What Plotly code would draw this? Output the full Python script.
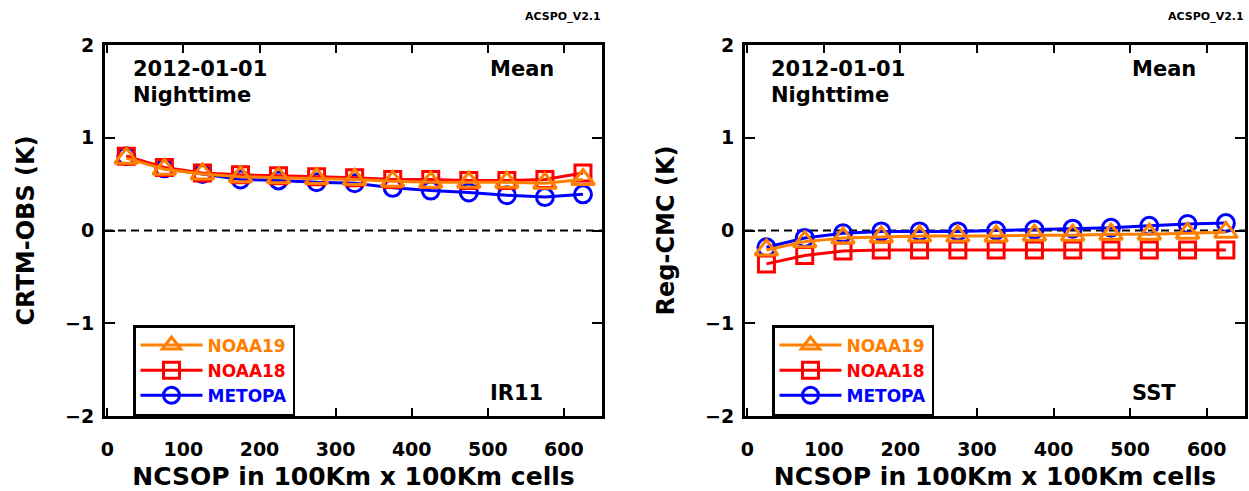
import plotly.graph_objects as go

# ---------------- data ----------------
ncsop = [25, 75, 125, 175, 225, 275, 325, 375, 425, 475, 525, 575, 625]

noaa19_ir11 = [0.78, 0.66, 0.61, 0.58, 0.57, 0.56, 0.55, 0.53, 0.52, 0.52, 0.52, 0.51, 0.55]
noaa18_ir11 = [0.80, 0.68, 0.62, 0.60, 0.59, 0.58, 0.57, 0.55, 0.55, 0.54, 0.54, 0.55, 0.62]
metopa_ir11 = [0.80, 0.67, 0.61, 0.55, 0.54, 0.52, 0.51, 0.46, 0.43, 0.41, 0.38, 0.36, 0.39]

noaa19_sst = [-0.21, -0.12, -0.08, -0.07, -0.06, -0.06, -0.06, -0.05, -0.05, -0.04, -0.04, -0.03, -0.02]
noaa18_sst = [-0.36, -0.27, -0.22, -0.21, -0.21, -0.21, -0.21, -0.21, -0.21, -0.21, -0.21, -0.21, -0.21]
metopa_sst = [-0.18, -0.08, -0.03, -0.01, -0.01, -0.01, 0.00, 0.01, 0.02, 0.03, 0.05, 0.07, 0.08]

x_ticks = [0, 100, 200, 300, 400, 500, 600]
y_ticks = [-2, -1, 0, 1, 2]

series_names = ["METOPA", "NOAA18", "NOAA19"]
series_colors = ["#0000FF", "#FF0000", "#FF8000"]
series_symbols = ["circle-open", "square-open", "triangle-up-open"]
series_sizes = [17, 16, 20]

left_values = [metopa_ir11, noaa18_ir11, noaa19_ir11]
right_values = [metopa_sst, noaa18_sst, noaa19_sst]

FONT = "DejaVu Sans"

fig = go.Figure()

for panel, values, xa, ya, leg in [
    ("left", left_values, "x", "y", "legend"),
    ("right", right_values, "x2", "y2", "legend2"),
]:
    for name, col, sym, sz, vals in zip(series_names, series_colors, series_symbols, series_sizes, values):
        fig.add_trace(go.Scatter(
            x=ncsop, y=vals, xaxis=xa, yaxis=ya,
            mode="lines+markers",
            name=f'<span style="color:{col}">{name}</span>',
            legend=leg,
            line=dict(color=col, width=3),
            marker=dict(symbol=sym, size=sz, color=col, line=dict(color=col, width=3)),
        ))

W, H = 1249, 491
left_dom = [105 / W, 602 / W]
right_dom = [745 / W, 1245 / W]
y_dom = [(H - 416) / H, (H - 45) / H]

tickfont = dict(family=FONT, size=19, color="black", weight="bold")
xtitlefont = dict(family=FONT, size=25, color="black", weight="bold")
ytitlefont = dict(family=FONT, size=24, color="black", weight="bold")

def xaxis(dom, anchor):
    return dict(
        domain=dom, anchor=anchor, range=[-3, 650], tickvals=x_ticks,
        ticks="inside", ticklen=8, tickwidth=2, tickcolor="black",
        showline=True, linecolor="black", linewidth=3, mirror="ticks",
        showgrid=False, zeroline=False, tickfont=tickfont,
        ticklabelstandoff=14,
        title=dict(text="NCSOP in 100Km x 100Km cells", font=xtitlefont, standoff=11),
        automargin=False,
    )

def yaxis(title, anchor):
    return dict(
        domain=y_dom, anchor=anchor, range=[-2, 2], tickvals=y_ticks,
        ticks="inside", ticklen=10, tickwidth=2, tickcolor="black",
        showline=True, linecolor="black", linewidth=3, mirror="ticks",
        showgrid=False, zeroline=False, tickfont=tickfont,
        ticklabelstandoff=4,
        title=dict(text=title, font=ytitlefont, standoff=24),
        automargin=False,
    )

legend_common = dict(
    bgcolor="white", bordercolor="black", borderwidth=2.5,
    font=dict(family=FONT, size=17, weight="bold"),
    traceorder="reversed", xanchor="left", yanchor="top",
    itemwidth=62, tracegroupgap=0,
)

fig.update_layout(
    width=W, height=H,
    margin=dict(l=0, r=0, t=0, b=0, pad=0),
    paper_bgcolor="white", plot_bgcolor="white",
    showlegend=True,
    xaxis=xaxis(left_dom, "y"),
    yaxis=yaxis("CRTM-OBS (K)", "x"),
    xaxis2=xaxis(right_dom, "y2"),
    yaxis2=yaxis("Reg-CMC (K)", "x2"),
    legend=dict(x=133 / W, y=(H - 325) / H, **legend_common),
    legend2=dict(x=772 / W, y=(H - 325) / H, **legend_common),
)

# dashed zero lines
for xr, yr in [("x domain", "y"), ("x2 domain", "y2")]:
    fig.add_shape(type="line", xref=xr, yref=yr, x0=0, x1=1, y0=0, y1=0,
                  line=dict(color="black", width=2, dash="8px,5px"), layer="below")

annfont = dict(family=FONT, size=21, color="black", weight="bold")
smallfont = dict(family=FONT, size=11, color="black", weight="bold")

def add_texts(xr, yr, label, x_left_frac, version_right_px):
    fig.add_annotation(xref=xr, yref=yr, x=x_left_frac, y=(416 - 69) / 371,
                       text="2012-01-01", showarrow=False, xanchor="left", yanchor="middle", font=annfont)
    fig.add_annotation(xref=xr, yref=yr, x=x_left_frac, y=(416 - 95) / 371,
                       text="Nighttime", showarrow=False, xanchor="left", yanchor="middle", font=annfont)
    fig.add_annotation(xref=xr, yref=yr, x=0.77, y=(416 - 69) / 371,
                       text="Mean", showarrow=False, xanchor="left", yanchor="middle", font=annfont)
    fig.add_annotation(xref=xr, yref=yr, x=0.77, y=(416 - 393) / 371,
                       text=label, showarrow=False, xanchor="left", yanchor="middle", font=annfont)
    fig.add_annotation(xref="paper", yref="paper", x=version_right_px / W, y=(H - 17) / H,
                       text="ACSPO_V2.1", showarrow=False, xanchor="right", yanchor="middle", font=smallfont)

add_texts("x domain", "y domain", "IR11", 0.052, 603)
add_texts("x2 domain", "y2 domain", "SST", 0.048, 1246)

fig.write_html(
    "out.html",
    config={"displayModeBar": False},
    post_script="document.body.style.margin='0px';document.body.style.overflow='hidden';",
)
